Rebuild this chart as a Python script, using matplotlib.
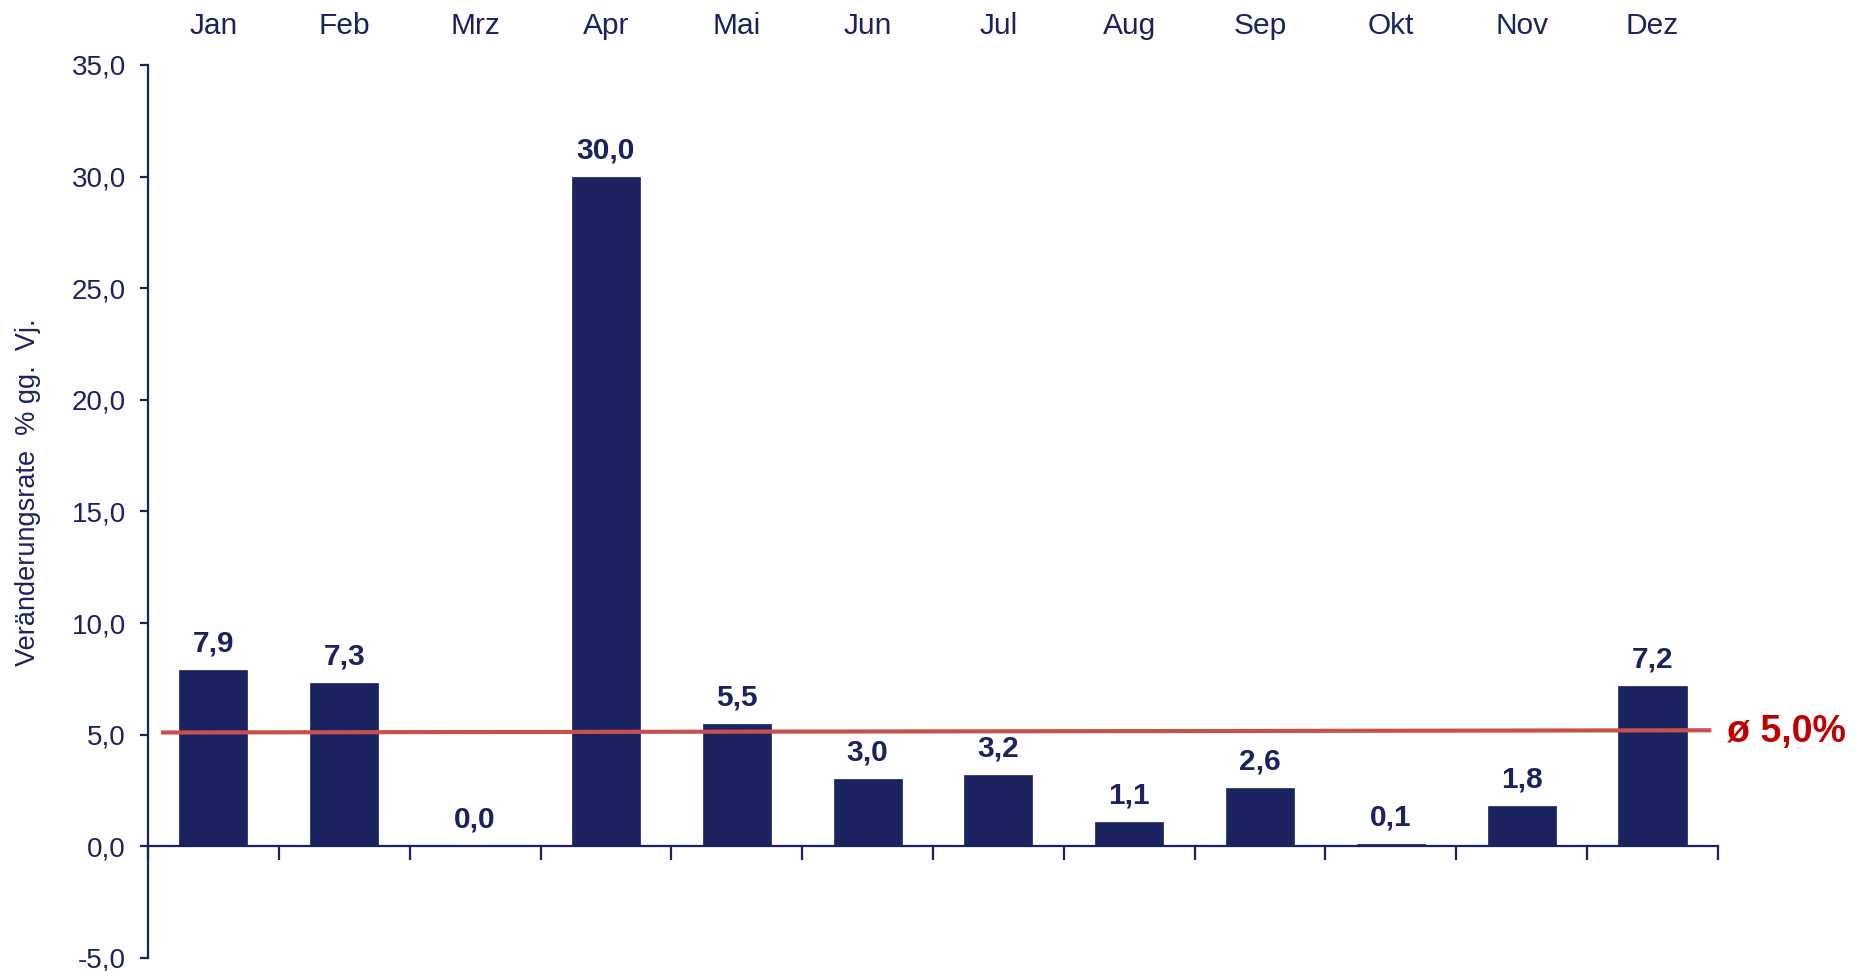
import numpy as np
import matplotlib
matplotlib.use("Agg")
import matplotlib.pyplot as plt
import matplotlib.transforms as mtransforms

months = ["Jan", "Feb", "Mrz", "Apr", "Mai", "Jun", "Jul", "Aug", "Sep", "Okt", "Nov", "Dez"]
values = [7.9, 7.3, 0.0, 30.0, 5.5, 3.0, 3.2, 1.1, 2.6, 0.1, 1.8, 7.2]
avg_label = "ø 5,0%"
avg_line = [5.1, 5.2]  # drawn line, slightly slanted in the original
yticks = [-5, 0, 5, 10, 15, 20, 25, 30, 35]

navy = "#1A2360"
red_line = "#C8504F"
red_text = "#C00000"

plt.rcParams["font.family"] = ["Liberation Sans", "DejaVu Sans"]

fig = plt.figure(figsize=(18.55, 9.71), dpi=100)
ax = fig.add_axes([0.0798, 0.0134, 0.8463, 0.9197])

x = np.arange(len(months))
ax.bar(x, values, width=0.52, color=navy, edgecolor=navy, linewidth=0.5, zorder=2)

for xi, v in zip(x, values):
    ax.annotate(f"{v:.1f}".replace(".", ","), (xi, v), xytext=(0, 19),
                textcoords="offset points", ha="center", va="center",
                fontsize=21.5, fontweight="bold", color=navy)

# average line + label
ax.plot([-0.4, 11.45], avg_line, color=red_line, linewidth=3, zorder=3,
        solid_capstyle="butt", clip_on=False)
ax.text(11.57, 5.1, avg_label, ha="left", va="center", fontsize=27,
        fontweight="bold", color=red_text, clip_on=False)

ax.set_xlim(-0.5, 11.5)
ax.set_ylim(-5, 35)

# month names across the top
trans = mtransforms.blended_transform_factory(ax.transData, fig.transFigure)
for xi, m in zip(x, months):
    ax.text(xi, 1 - 26 / 971, m, transform=trans, ha="center", va="center",
            fontsize=21.5, color=navy)

ax.set_yticks(yticks)
ax.set_yticklabels([f"{t:.1f}".replace(".", ",") for t in yticks])
ax.set_xticks(np.arange(-0.5, 12, 1))
ax.set_xticklabels([])

for s in ["top", "right"]:
    ax.spines[s].set_visible(False)
ax.spines["bottom"].set_position(("data", 0))
for s in ["left", "bottom"]:
    ax.spines[s].set_color(navy)
    ax.spines[s].set_linewidth(1.6)

ax.tick_params(axis="y", direction="out", length=6, width=1.6, color=navy,
               labelcolor=navy, labelsize=20, pad=10)
ax.tick_params(axis="x", direction="out", length=10, width=1.6, color=navy)

ax.set_ylabel("Veränderungsrate  % gg.  Vj.", fontsize=19.5, color=navy)
ax.yaxis.set_label_coords(-0.068, 0.522)

fig.savefig("out.png", dpi=100)
